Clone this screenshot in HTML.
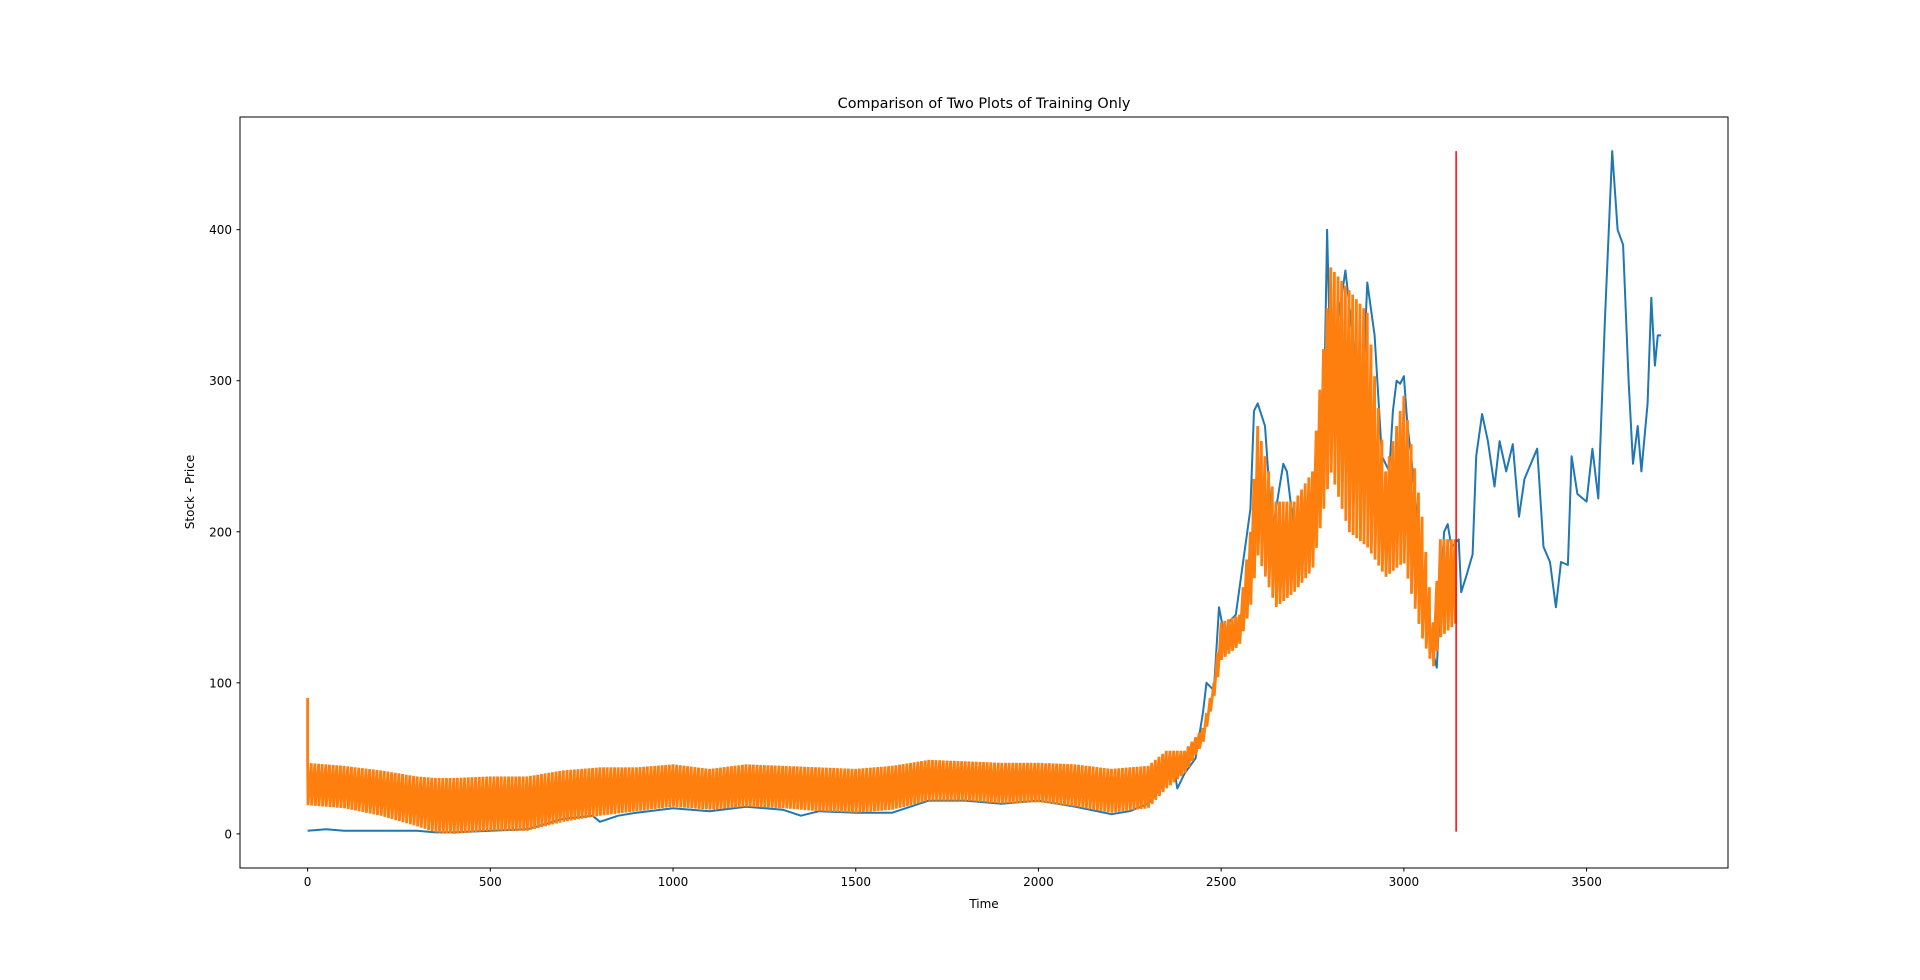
<!DOCTYPE html>
<html><head><meta charset="utf-8"><style>
body{margin:0;background:#fff;font-family:"Liberation Sans",sans-serif}
svg text{font-family:"DejaVu Sans","Liberation Sans",sans-serif;font-size:12px;fill:#000}
</style></head><body>
<svg id="chart" width="1920" height="975" viewBox="0 0 1920 975" xmlns="http://www.w3.org/2000/svg">
<rect width="1920" height="975" fill="#fff"/>
<text x="984" y="108" text-anchor="middle" style="font-size:14.4px">Comparison of Two Plots of Training Only</text>
<g id="plot"></g>
<rect x="240" y="117" width="1488" height="751" fill="none" stroke="#000" stroke-width="1"/>
<text x="984" y="908" text-anchor="middle">Time</text>
<text transform="translate(194,492) rotate(-90)" text-anchor="middle">Stock - Price</text>
</svg>
<script>
const xTicks=[0,500,1000,1500,2000,2500,3000,3500];
const yTicks=[0,100,200,300,400];
const blueX=[0,50,100,300,350,400,500,600,700,780,800,850,900,1000,1100,1200,1300,1350,1400,1500,1600,1700,1800,1900,2000,2100,2200,2250,2300,2350,2370,2380,2400,2430,2450,2460,2480,2494,2510,2520,2540,2560,2580,2590,2600,2620,2640,2660,2670,2680,2700,2720,2750,2770,2780,2790,2800,2820,2840,2860,2870,2880,2890,2900,2920,2940,2960,2970,2980,2990,3000,3010,3020,3030,3050,3080,3090,3100,3110,3120,3130,3150,3157,3170,3188,3198,3214,3230,3248,3262,3280,3298,3315,3330,3365,3382,3400,3416,3430,3449,3459,3475,3500,3516,3532,3550,3570,3585,3600,3615,3627,3640,3650,3667,3677,3687,3695,3704];
const blueY=[2,3,2,2,1,1,2,3,10,12,8,12,14,17,15,18,16,12,15,14,14,22,22,20,22,18,13,15,20,35,45,30,40,50,80,100,95,150,130,140,145,180,215,280,285,270,200,230,245,240,200,180,215,250,260,400,300,340,373,330,300,260,310,365,330,250,240,280,300,298,303,270,250,225,170,120,110,160,200,205,190,195,160,170,185,250,278,260,230,260,240,258,210,235,255,190,180,150,180,178,250,225,220,255,222,340,452,400,390,300,245,270,240,285,355,310,330,330];
const orX=[0,100,200,300,350,400,500,600,700,800,900,1000,1100,1200,1300,1400,1500,1600,1700,1800,1900,2000,2100,2200,2300,2350,2400,2450,2480,2500,2550,2580,2600,2650,2700,2750,2800,2850,2900,2950,3000,3050,3080,3100,3145];
const orHi=[47,45,42,38,37,37,38,38,42,44,44,46,43,46,45,44,43,45,49,48,47,47,46,43,45,55,55,70,100,140,145,200,270,220,220,240,375,360,345,240,290,210,140,195,195];
const orLo=[19,17,12,5,1,0,2,2,8,12,15,18,16,18,17,15,14,16,22,22,20,21,18,14,17,30,40,60,90,115,125,150,185,150,160,175,240,200,190,170,180,130,110,130,140];
const orStart=90, period=10, redX=3143;
const x0=-185,x1=3887,y0=-22.6,y1=474.6;
const X=v=>240+(v-x0)/(x1-x0)*1488;
const Y=v=>868-(v-y0)/(y1-y0)*751;
const ns='http://www.w3.org/2000/svg';
const svg=document.getElementById('chart'),plot=document.getElementById('plot');
function mk(t,a,p){const e=document.createElementNS(ns,t);for(const k in a)e.setAttribute(k,a[k]);(p||svg).appendChild(e);return e;}
function interp(xs,ys,x){for(let i=1;i<xs.length;i++){if(x<=xs[i]){const t=(x-xs[i-1])/(xs[i]-xs[i-1]);return ys[i-1]+t*(ys[i]-ys[i-1]);}}return ys[ys.length-1];}
xTicks.forEach(v=>{
 const l=mk('line',{x1:X(v),x2:X(v),y1:868,y2:871.5,stroke:'#000'});
 
 
 const t=mk('text',{x:X(v),y:886,'text-anchor':'middle'});t.textContent=v;
 
 
});
yTicks.forEach(v=>{
 const l=mk('line',{x1:236.5,x2:240,y1:Y(v),y2:Y(v),stroke:'#000'});
 
 
 const t=mk('text',{x:232,y:Y(v)+4.5,'text-anchor':'end'});t.textContent=v;
 
 
});
let d='';blueX.forEach((x,i)=>{d+=(i?'L':'M')+X(x).toFixed(1)+','+Y(blueY[i]).toFixed(1);});
const b=mk('path',{d:d,fill:'none',stroke:'#1f77b4','stroke-width':2,'stroke-linejoin':'round'},plot);


let od='M'+X(0)+','+Y(orStart)+'L'+X(0)+','+Y(orHi[0]);
const end=orX[orX.length-1];
for(let x=0;x<=end;x+=period){
 const xl=Math.min(x+1,end);
 const hi=interp(orX,orHi,x),lo=interp(orX,orLo,xl);
 od+='L'+X(x).toFixed(1)+','+Y(hi).toFixed(1)+'L'+X(xl).toFixed(1)+','+Y(lo).toFixed(1);
}
const o=mk('path',{d:od,fill:'none',stroke:'#ff7f0e','stroke-width':2.8,'stroke-linejoin':'bevel'},plot);


const r=mk('line',{x1:X(redX),x2:X(redX),y1:Y(1.5),y2:Y(Math.max(...blueY)),stroke:'#ff0000','stroke-width':1.5},plot);


</script>
</body></html>
